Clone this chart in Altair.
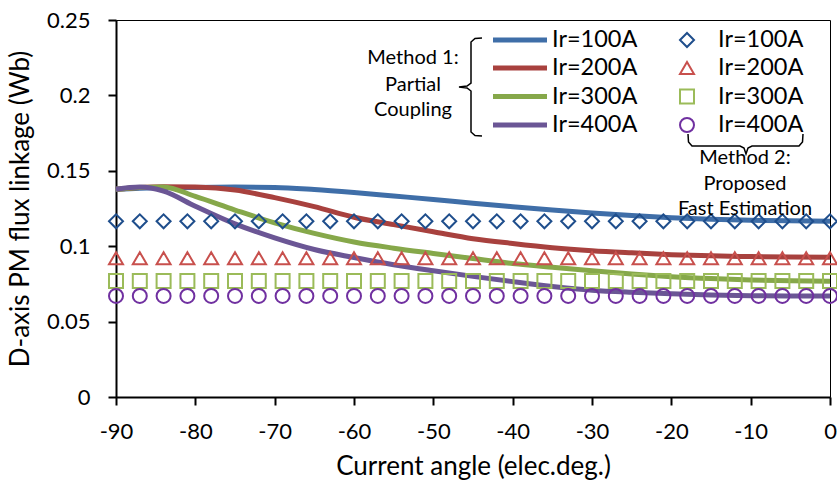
import altair as alt
import pandas as pd

# ---------------- data ----------------
SERIES = ["Ir=100A", "Ir=200A", "Ir=300A", "Ir=400A"]

LINE_ANGLES = [-90, -87, -84, -80, -75, -70, -65, -60, -55, -50,
               -45, -40, -35, -30, -25, -20, -15, -10, -5, 0]
M1_100 = [0.1378, 0.1385, 0.1388, 0.1390, 0.1392, 0.1390, 0.1376, 0.1356, 0.1333, 0.1310,
          0.1285, 0.1262, 0.1240, 0.1220, 0.1203, 0.1189, 0.1179, 0.1172, 0.1168, 0.1166]
M1_200 = [0.1378, 0.1390, 0.1395, 0.1392, 0.1372, 0.1322, 0.1262, 0.1192, 0.1143, 0.1096,
          0.1050, 0.1018, 0.0990, 0.0970, 0.0956, 0.0944, 0.0936, 0.0931, 0.0928, 0.0926]
M1_300 = [0.1378, 0.1390, 0.1393, 0.1330, 0.1240, 0.1155, 0.1085, 0.1028, 0.0987, 0.0952,
          0.0918, 0.0885, 0.0860, 0.0837, 0.0816, 0.0798, 0.0785, 0.0776, 0.0771, 0.0768]
M1_400 = [0.1378, 0.1392, 0.1365, 0.1265, 0.1148, 0.1055, 0.0978, 0.0925, 0.0877, 0.0837,
          0.0800, 0.0765, 0.0733, 0.0708, 0.0694, 0.0684, 0.0677, 0.0672, 0.0670, 0.0669]

MARK_ANGLES = [-90, -87, -84, -81, -78, -75, -72, -69, -66, -63, -60, -57, -54, -51, -48, -45,
               -42, -39, -36, -33, -30, -27, -24, -21, -18, -15, -12, -9, -6, -3, 0]
M2_100 = [0.1165, 0.1165, 0.1165, 0.1165, 0.1165, 0.1165, 0.1165, 0.1165, 0.1165, 0.1165, 0.1165,
          0.1165, 0.1165, 0.1165, 0.1165, 0.1165, 0.1165, 0.1165, 0.1165, 0.1165, 0.1165, 0.1165,
          0.1165, 0.1165, 0.1165, 0.1165, 0.1165, 0.1165, 0.1165, 0.1165, 0.1165]
M2_200 = [0.092, 0.092, 0.092, 0.092, 0.092, 0.092, 0.092, 0.092, 0.092, 0.092, 0.092,
          0.092, 0.092, 0.092, 0.092, 0.092, 0.092, 0.092, 0.092, 0.092, 0.092, 0.092,
          0.092, 0.092, 0.092, 0.092, 0.092, 0.092, 0.092, 0.092, 0.092]
M2_300 = [0.077, 0.077, 0.077, 0.077, 0.077, 0.077, 0.077, 0.077, 0.077, 0.077, 0.077,
          0.077, 0.077, 0.077, 0.077, 0.077, 0.077, 0.077, 0.077, 0.077, 0.077, 0.077,
          0.077, 0.077, 0.077, 0.077, 0.077, 0.077, 0.077, 0.077, 0.077]
M2_400 = [0.067, 0.067, 0.067, 0.067, 0.067, 0.067, 0.067, 0.067, 0.067, 0.067, 0.067,
          0.067, 0.067, 0.067, 0.067, 0.067, 0.067, 0.067, 0.067, 0.067, 0.067, 0.067,
          0.067, 0.067, 0.067, 0.067, 0.067, 0.067, 0.067, 0.067, 0.067]

X_TICKS = [-90, -80, -70, -60, -50, -40, -30, -20, -10, 0]
Y_TICKS = [0, 0.05, 0.1, 0.15, 0.2, 0.25]

LINE_COLORS = ["#3F6EA8", "#A8413E", "#86A84A", "#6B5695"]
MARK_COLORS = ["#1F4E8C", "#C8504D", "#9BBB59", "#7030A0"]
MARK_SHAPES = ["diamond", "triangle-up", "square", "circle"]

FONT = "Lato"

# ---------------- tables ----------------
line_rows = []
for s, vals, c in zip(SERIES, [M1_100, M1_200, M1_300, M1_400], LINE_COLORS):
    for a, v in zip(LINE_ANGLES, vals):
        line_rows.append({"angle": a, "value": v, "series": "M1 " + s, "color": c})
df_lines = pd.DataFrame(line_rows)

mark_rows = []
for s, vals, c, sh in zip(SERIES, [M2_100, M2_200, M2_300, M2_400], MARK_COLORS, MARK_SHAPES):
    for a, v in zip(MARK_ANGLES, vals):
        mark_rows.append({"angle": a, "value": v, "series": "M2 " + s, "color": c, "shape": sh})
df_marks = pd.DataFrame(mark_rows)

# legend layout (pixels within the plot area)
LEG_Y = [20, 48, 76.5, 105]
df_leg = pd.DataFrame({"label": SERIES, "y": LEG_Y, "lcolor": LINE_COLORS,
                       "mcolor": MARK_COLORS, "shape": MARK_SHAPES})

df_m1 = pd.DataFrame({"t": ["Method 1:", "Partial", "Coupling"], "y": [38, 65, 90]})
df_m2 = pd.DataFrame({"t": ["Method 2:", "Proposed", "Fast Estimation"], "y": [138, 164, 189]})

brace1_x = [482, 475, 471, 471, 467, 459, 467, 471, 471, 475, 482]
brace1_y = [38, 38.5, 42, 83, 86, 87, 88, 91, 132, 135.5, 136]
df_b1 = pd.DataFrame({"x": [v - 116 for v in brace1_x], "y": [v - 20 for v in brace1_y],
                      "o": list(range(len(brace1_x)))})
brace2_x = [688, 688.5, 692, 740, 744, 746, 748, 752, 799, 802.5, 803]
brace2_y = [134, 142, 146, 146, 148, 154, 148, 146, 146, 142, 134]
df_b2 = pd.DataFrame({"x": [v - 116 for v in brace2_x], "y": [v - 20 for v in brace2_y],
                      "o": list(range(len(brace2_x)))})

# ---------------- chart ----------------
xenc = alt.X("angle:Q", scale=alt.Scale(domain=[-90, 0], nice=False),
             axis=alt.Axis(values=X_TICKS, labelExpr="'' + datum.value", grid=False,
                           title="Current angle (elec.deg.)", titleY=77,
                           titleBaseline="alphabetic",
                           labelPadding=16, tickSize=8))
yenc = alt.Y("value:Q", scale=alt.Scale(domain=[0, 0.25], nice=False, zero=False),
             axis=alt.Axis(values=Y_TICKS, format="~g", grid=False,
                           title="D-axis PM flux linkage (Wb)",
                           titleX=-88, titleY=188.5, titleAngle=270,
                           titleBaseline="alphabetic", titleAnchor="middle",
                           labelPadding=18, tickSize=8))

lines = alt.Chart(df_lines).mark_line(strokeWidth=5, interpolate="monotone").encode(
    x=xenc, y=yenc, color=alt.Color("color:N", scale=None), detail="series:N")

marks = alt.Chart(df_marks).mark_point(filled=False, size=196, strokeWidth=2, opacity=1).encode(
    x="angle:Q", y="value:Q",
    color=alt.Color("color:N", scale=None),
    shape=alt.Shape("shape:N", scale=None))

leg_lines = alt.Chart(df_leg).mark_rule(strokeWidth=5).encode(
    x=alt.value(377), x2=alt.value(431), y=alt.Y("y:Q", scale=None),
    color=alt.Color("lcolor:N", scale=None))
leg_lines_txt = alt.Chart(df_leg).mark_text(align="left", baseline="middle", fontSize=23.5,
                                            font=FONT, color="black").encode(
    x=alt.value(436), y=alt.Y("y:Q", scale=None), text="label:N")
leg_marks = alt.Chart(df_leg).mark_point(filled=False, size=196, strokeWidth=2, opacity=1).encode(
    x=alt.value(571), y=alt.Y("y:Q", scale=None),
    color=alt.Color("mcolor:N", scale=None), shape=alt.Shape("shape:N", scale=None))
leg_marks_txt = alt.Chart(df_leg).mark_text(align="left", baseline="middle", fontSize=23.5,
                                            font=FONT, color="black").encode(
    x=alt.value(602), y=alt.Y("y:Q", scale=None), text="label:N")

m1_txt = alt.Chart(df_m1).mark_text(align="center", baseline="middle", fontSize=20,
                                    font=FONT, color="black").encode(
    x=alt.value(297), y=alt.Y("y:Q", scale=None), text="t:N")
m2_txt = alt.Chart(df_m2).mark_text(align="center", baseline="middle", fontSize=20,
                                    font=FONT, color="black").encode(
    x=alt.value(629), y=alt.Y("y:Q", scale=None), text="t:N")

brace1 = alt.Chart(df_b1).mark_line(color="black", strokeWidth=1.5).encode(
    x=alt.X("x:Q", scale=None), y=alt.Y("y:Q", scale=None), order="o:Q")
brace2 = alt.Chart(df_b2).mark_line(color="black", strokeWidth=1.5).encode(
    x=alt.X("x:Q", scale=None), y=alt.Y("y:Q", scale=None), order="o:Q")

chart = alt.layer(
    lines, marks, leg_lines, leg_lines_txt, leg_marks, leg_marks_txt,
    brace1, brace2, m1_txt, m2_txt
).properties(
    width=714, height=377,
    padding={"left": 116, "top": 20, "right": 7, "bottom": 89},
    autosize=alt.AutoSizeParams(type="none"),
    background="white",
).configure_view(
    stroke="black", strokeWidth=1
).configure_axis(
    labelFont=FONT, titleFont=FONT, labelFontSize=22, titleFontSize=26,
    titleFontWeight="normal", labelColor="black", titleColor="black",
    domainColor="black", domainWidth=2, tickColor="black", tickWidth=2,
    labelFlush=False, labelOverlap=False
)

chart.save("out.html", embed_options={"renderer": "svg", "actions": False})
